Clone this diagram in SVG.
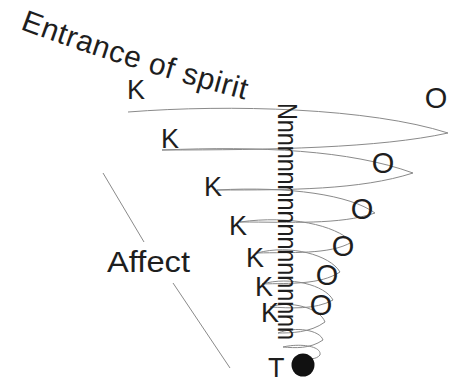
<svg xmlns="http://www.w3.org/2000/svg" xmlns:xlink="http://www.w3.org/1999/xlink" width="459" height="383" viewBox="0 0 459 383">
<style>
.t{font-family:"Liberation Sans",Arial,sans-serif;fill:#1e1e1e}
.k{font-size:27px}
.o{font-size:29px;text-anchor:middle}
.ln{fill:none;stroke:#8a8a8a;stroke-width:1}
</style>
<defs>
<path id="titlePath" d="M20,29 Q130,70 258,103"/>
</defs>
<rect width="459" height="383" fill="#fff"/>
<g id="title">
<text class="t" font-size="30"><textPath xlink:href="#titlePath" href="#titlePath" textLength="236" lengthAdjust="spacing">Entrance of spirit</textPath></text>
</g>
<g id="connectors">
<path class="ln" d="M128,112 C230,104 370,108 448,133 C380,148 270,150 162,150 C260,146 350,150 413,173 C360,190 290,190 217,190 C290,186 350,195 375,213 C340,225 290,222 240,222 C290,215 335,225 352,242 C330,255 290,252 257,253 C290,244 330,255 340,272 C320,285 290,283 262,284 C290,276 325,285 333,300 C315,310 290,308 270,307 C290,300 320,308 325,322 C310,333 290,333 278,333 C295,326 320,330 323,340 C310,349 295,348 283,347 C300,343 322,346 320,355 C316,360 308,359 303,358"/>
<line class="ln" x1="103" y1="173" x2="144" y2="242"/>
<line class="ln" x1="173" y1="283" x2="230" y2="368"/>
</g>
<g id="column">
<text class="t" font-size="27" transform="translate(278,103) rotate(90)" textLength="237" lengthAdjust="spacingAndGlyphs">Nnnnnnnnnnnnnnnnnn</text>
</g>
<g id="k-labels">
<text class="t k" x="127" y="99">K</text>
<text class="t k" x="161" y="148">K</text>
<text class="t k" x="204" y="196">K</text>
<text class="t k" x="229" y="235">K</text>
<text class="t k" x="246" y="267">K</text>
<text class="t k" x="255" y="296">K</text>
<text class="t k" x="261" y="322">K</text>
</g>
<g id="o-labels">
<text class="t o" x="436" y="108">O</text>
<text class="t o" x="383" y="173">O</text>
<text class="t o" x="362" y="219">O</text>
<text class="t o" x="343" y="256">O</text>
<text class="t o" x="327" y="285">O</text>
<text class="t o" x="321" y="315">O</text>
</g>
<g id="affect">
<text class="t" font-size="29" x="107" y="272" textLength="83" lengthAdjust="spacingAndGlyphs">Affect</text>
</g>
<g id="bottom">
<text class="t" font-size="27" x="268" y="377">T</text>
<circle cx="303" cy="365" r="11.5" fill="#111"/>
</g>
</svg>
